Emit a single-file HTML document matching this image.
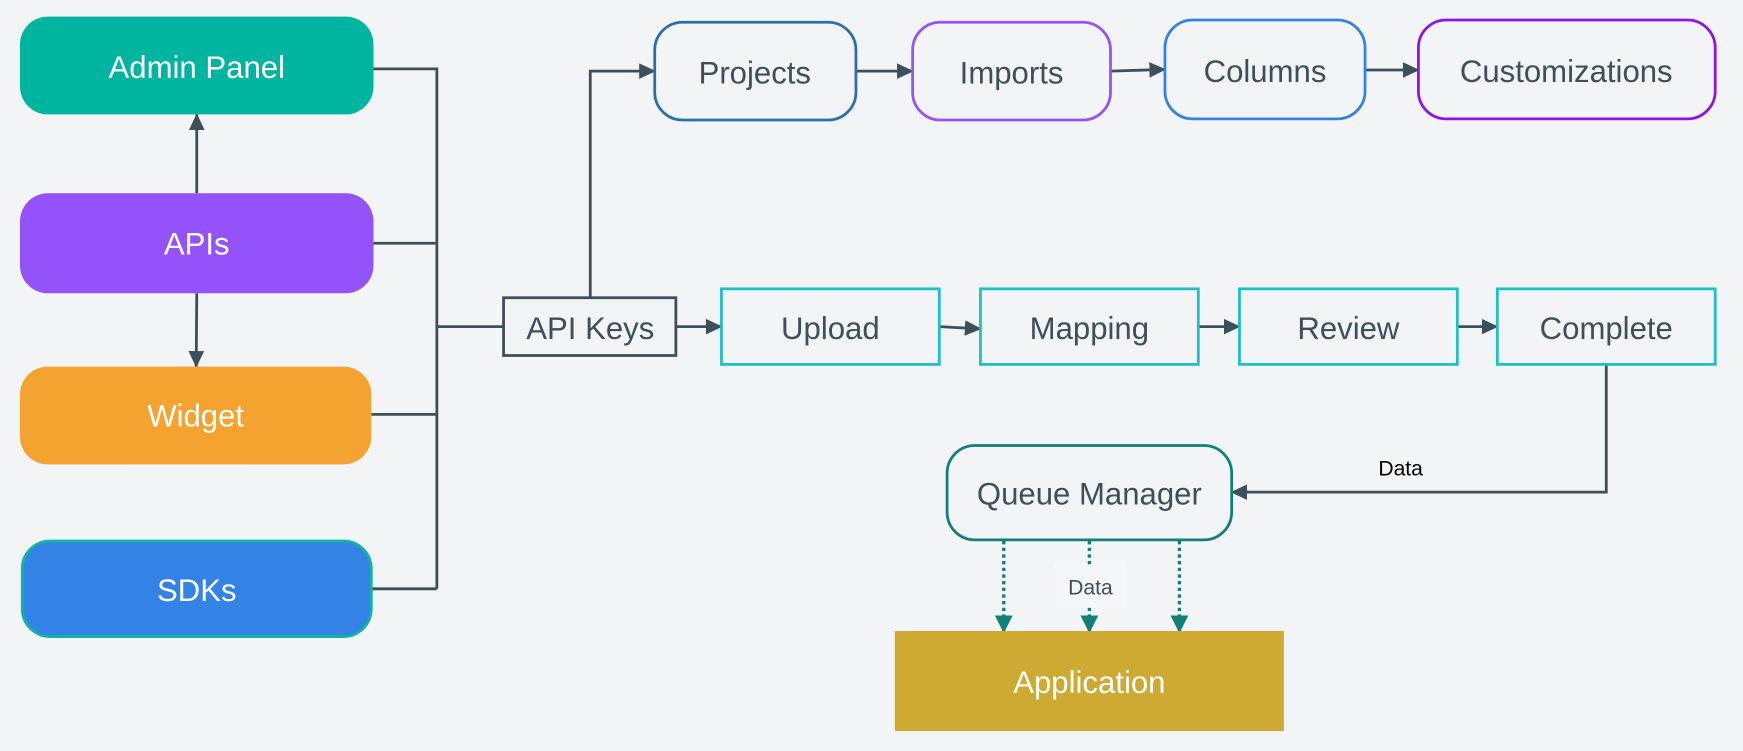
<!DOCTYPE html>
<html><head><meta charset="utf-8">
<style>
html,body{margin:0;padding:0;background:#f2f4f6;}
svg{display:block;}
text{font-family:"Liberation Sans",sans-serif;}
</style></head>
<body>
<svg width="1743" height="751" viewBox="0 0 1568 676" preserveAspectRatio="none" xmlns="http://www.w3.org/2000/svg">
<defs>
<marker id="a" markerWidth="16" markerHeight="14" refX="14" refY="7" orient="auto" markerUnits="userSpaceOnUse"><path d="M0,0 L15,7 L0,14 z" fill="#3d4f5a"/></marker>
<marker id="t" markerWidth="16" markerHeight="16" refX="14" refY="8" orient="auto" markerUnits="userSpaceOnUse"><path d="M0,0 L16,8 L0,16 z" fill="#128078"/></marker>
</defs>
<rect width="1568" height="676" fill="#f2f4f6"/>
<g fill="none" stroke="#3d4f5a" stroke-width="2.5">
<path d="M336 62 H393 V530 M336 219 H393 M334 373 H393 M334 530 H393 M393 294 H453"/>
<path d="M177 174 V103" marker-end="url(#a)"/>
<path d="M177 264 L176.5 330" marker-end="url(#a)"/>
<path d="M531 268 V64 H589" marker-end="url(#a)"/>
<path d="M770 64 H821" marker-end="url(#a)"/>
<path d="M999 64 L1048 62.5" marker-end="url(#a)"/>
<path d="M1228 63 H1276" marker-end="url(#a)"/>
<path d="M608 294 H649" marker-end="url(#a)"/>
<path d="M845 294 L882 296" marker-end="url(#a)"/>
<path d="M1078 294 H1115" marker-end="url(#a)"/>
<path d="M1311 294 H1347" marker-end="url(#a)"/>
<path d="M1445 328 V443 H1108" marker-end="url(#a)"/>
</g>
<g fill="none" stroke="#128078" stroke-width="3" stroke-dasharray="3 3">
<path d="M903 487 V568" marker-end="url(#t)"/>
<path d="M980 487 V568" marker-end="url(#t)"/>
<path d="M1061 487 V568" marker-end="url(#t)"/>
</g>
<rect x="948" y="508" width="65" height="39" fill="#f5f6f9"/>
<text x="981" y="535" font-size="19" fill="#3d4f5a" text-anchor="middle">Data</text>
<text x="1260" y="428" font-size="19" fill="#000" text-anchor="middle">Data</text>

<rect x="18" y="15" width="318" height="88" rx="25" fill="#00b5a0"/>
<rect x="18" y="174" width="318" height="90" rx="25" fill="#9452fa"/>
<rect x="18" y="330" width="316" height="88" rx="25" fill="#f4a230"/>
<rect x="20" y="487" width="314" height="86" rx="25" fill="#3383e6" stroke="#10b5a0" stroke-width="2.5"/>
<g font-size="28" fill="#fff" text-anchor="middle">
<text x="177" y="70">Admin Panel</text>
<text x="177" y="229">APIs</text>
<text x="176" y="384">Widget</text>
<text x="177" y="541">SDKs</text>
</g>
<rect x="453" y="268" width="155" height="52" fill="#f2f4f6" stroke="#3d4f5a" stroke-width="2.5"/>
<g fill="#f2f4f6" stroke-width="2.5">
<rect x="589" y="20" width="181" height="88" rx="25" stroke="#2a6fb0"/>
<rect x="821" y="20" width="178" height="88" rx="25" stroke="#9452fa"/>
<rect x="1048" y="18" width="180" height="89" rx="25" stroke="#3383e6"/>
<rect x="1276" y="18" width="267" height="89" rx="25" stroke="#9013e6"/>
<rect x="649" y="260" width="196" height="68" stroke="#1cc0c8"/>
<rect x="882" y="260" width="196" height="68" stroke="#1cc0c8"/>
<rect x="1115" y="260" width="196" height="68" stroke="#1cc0c8"/>
<rect x="1347" y="260" width="196" height="68" stroke="#1cc0c8"/>
<rect x="852" y="401" width="256" height="85" rx="25" stroke="#128078"/>
</g>
<g font-size="28" fill="#3d4f5a" text-anchor="middle">
<text x="531" y="305">API Keys</text>
<text x="679" y="75">Projects</text>
<text x="910" y="75">Imports</text>
<text x="1138" y="74">Columns</text>
<text x="1409" y="74">Customizations</text>
<text x="747" y="305">Upload</text>
<text x="980" y="305">Mapping</text>
<text x="1213" y="305">Review</text>
<text x="1445" y="305">Complete</text>
<text x="980" y="454">Queue Manager</text>
</g>
<rect x="805" y="568" width="350" height="90" fill="#cfaa33"/>
<text x="980" y="624" font-size="28" fill="#fff" text-anchor="middle">Application</text>
</svg>
</body></html>
